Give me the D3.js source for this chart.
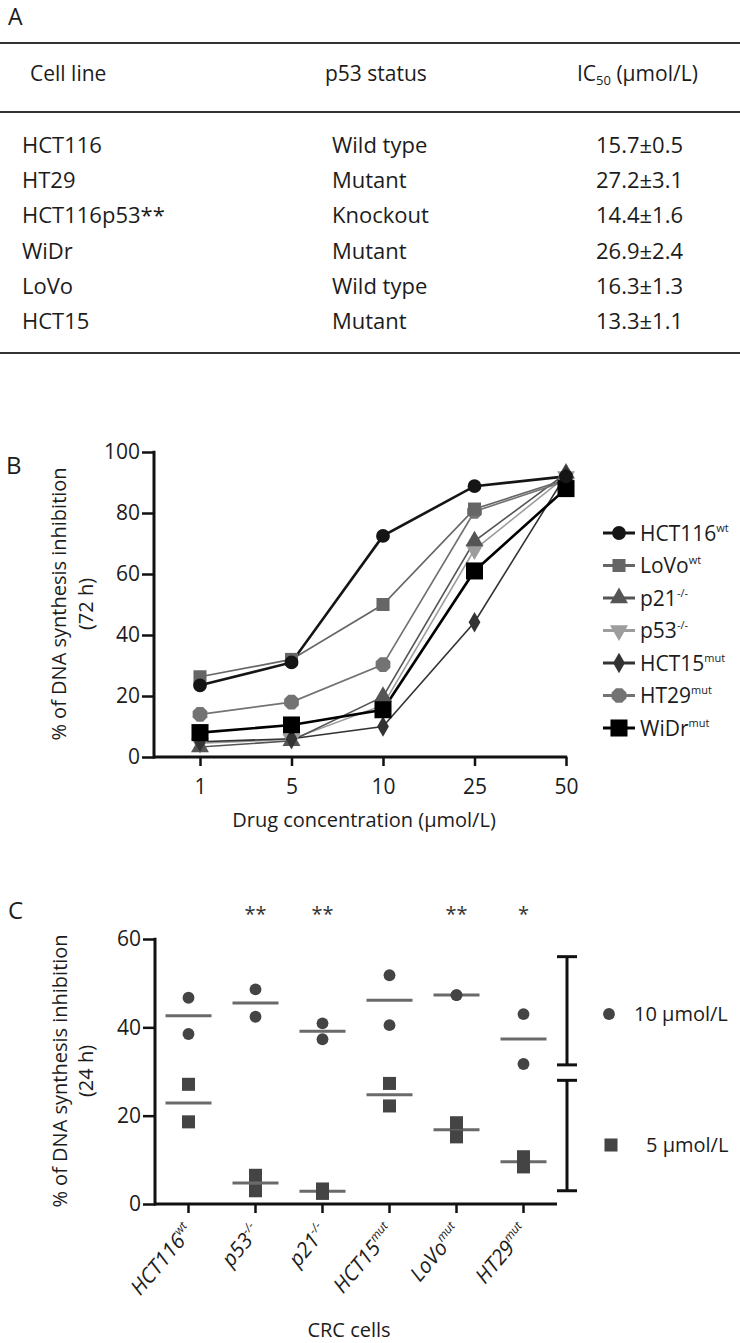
<!DOCTYPE html>
<html><head><meta charset="utf-8">
<script src="https://cdn.jsdelivr.net/npm/d3@7"></script>
<style>
html,body{margin:0;padding:0;background:#fff;}
svg{display:block;font-family:"Open Sans",sans-serif;}
</style></head>
<body>
<script>
// ---------- Panel A data ----------
const tableHeaders = ["Cell line", "p53 status", "IC50 (µmol/L)"];
const cellLines = ["HCT116", "HT29", "HCT116p53**", "WiDr", "LoVo", "HCT15"];
const p53Status = ["Wild type", "Mutant", "Knockout", "Mutant", "Wild type", "Mutant"];
const ic50 = ["15.7±0.5", "27.2±3.1", "14.4±1.6", "26.9±2.4", "16.3±1.3", "13.3±1.1"];

// ---------- Panel B data ----------
const concentrations = ["1", "5", "10", "25", "50"];
const seriesNames = ["HCT116", "LoVo", "p21", "p53", "HCT15", "HT29", "WiDr"];
const seriesSup = ["wt", "wt", "-/-", "-/-", "mut", "mut", "mut"];
const hct116Values = [23.5, 31, 72.5, 88.8, 92];
const lovoValues = [26.3, 32, 50, 81.3, 91];
const p21Values = [3.3, 5.3, 19.8, 70.8, 93];
const p53Values = [4.5, 5.8, 17, 68, 92];
const hct15Values = [5, 6, 10, 44.2, 92.5];
const ht29Values = [14, 18, 30.3, 80.5, 90.5];
const widrValues = [8, 10.5, 15.5, 61, 88];
const yTicksB = [0, 20, 40, 60, 80, 100];

// ---------- Panel C data ----------
const crcCells = ["HCT116", "p53", "p21", "HCT15", "LoVo", "HT29"];
const crcSup = ["wt", "-/-", "-/-", "mut", "mut", "mut"];
const signif = ["", "**", "**", "", "**", "*"];
const dose10 = [[46.7, 38.5], [48.6, 42.4], [40.9, 37.3], [51.8, 40.5], [47.3, 47.3], [43, 31.7]];
const dose5 = [[27.1, 18.6], [6.5, 3.0], [3.4, 2.4], [27.3, 22.2], [18.4, 15.2], [10.7, 8.4]];
const yTicksC = [0, 20, 40, 60];
const bracketRanges = [[31.5, 56], [3, 28]];
const doseLabels = ["10 µmol/L", "5 µmol/L"];

const W = 740, H = 1343;
const TXT = "#1c1c1c";
const svg = d3.select("body").append("svg").attr("width", W).attr("height", H);

// ================= Panel A =================
const gA = svg.append("g");
gA.append("text").attr("x", 8).attr("y", 25).attr("font-size", 23).attr("fill", TXT).text("A");
const ruleY = [43, 112, 353];
gA.selectAll("line.rule").data(ruleY).join("line")
  .attr("x1", 0).attr("x2", W).attr("y1", d => d).attr("y2", d => d)
  .attr("stroke", "#333").attr("stroke-width", 2.2);
const colX = [30, 325, 577];
const hdr = gA.append("g").attr("font-size", 21).attr("fill", TXT);
hdr.append("text").attr("x", colX[0]).attr("y", 81).text(tableHeaders[0]);
hdr.append("text").attr("x", colX[1]).attr("y", 81).text(tableHeaders[1]);
const ic = hdr.append("text").attr("x", colX[2]).attr("y", 81);
ic.append("tspan").text("IC");
ic.append("tspan").attr("font-size", 13).attr("dy", 4).text("50");
ic.append("tspan").attr("dy", -4).text(" (µmol/L)");

const rowY = d3.scalePoint().domain(d3.range(cellLines.length)).range([145, 321]);
const rows = gA.append("g").attr("font-size", 22).attr("fill", TXT);
rows.selectAll("text.c1").data(cellLines).join("text")
  .attr("x", 22).attr("y", (d, i) => rowY(i) + 8).text(d => d);
rows.selectAll("text.c2").data(p53Status).join("text").attr("class", "c2")
  .attr("x", 332).attr("y", (d, i) => rowY(i) + 8).text(d => d);
rows.selectAll("text.c3").data(ic50).join("text").attr("class", "c3")
  .attr("x", 596).attr("y", (d, i) => rowY(i) + 8).text(d => d);

// ================= Panel B =================
const gB = svg.append("g");
gB.append("text").attr("x", 6).attr("y", 474).attr("font-size", 24).attr("fill", TXT).text("B");

const xB = d3.scalePoint().domain(concentrations).range([200, 566]);
const yB = d3.scaleLinear().domain([0, 100]).range([757, 452]);

const yAxB = gB.append("g").attr("transform", "translate(154,0)")
  .call(d3.axisLeft(yB).tickValues(yTicksB).tickSize(12).tickPadding(2).tickSizeOuter(0));
const xAxB = gB.append("g").attr("transform", "translate(0,757)")
  .call(d3.axisBottom(xB).tickSize(9).tickPadding(8).tickSizeOuter(0));
[yAxB, xAxB].forEach(a => {
  a.select(".domain").remove();
  a.selectAll("line").attr("stroke", "#111").attr("stroke-width", 2.5);
  a.selectAll("text").attr("font-size", 21).attr("fill", TXT).attr("font-family", "Open Sans");
});
xAxB.selectAll("text").attr("dy", "0.95em");
gB.append("line").attr("x1", 154).attr("x2", 154).attr("y1", yB(100) - 1.2).attr("y2", yB(0) + 1.5)
  .attr("stroke", "#111").attr("stroke-width", 3);
gB.append("line").attr("x1", 153).attr("x2", xB("50") + 1.2).attr("y1", yB(0)).attr("y2", yB(0))
  .attr("stroke", "#111").attr("stroke-width", 3);

gB.append("text").attr("x", 364).attr("y", 827).attr("text-anchor", "middle")
  .attr("font-size", 20).attr("fill", TXT).text("Drug concentration (µmol/L)");
const ytB = gB.append("text").attr("transform", "translate(66,604) rotate(-90)")
  .attr("text-anchor", "middle").attr("font-size", 20).attr("fill", TXT);
ytB.append("tspan").attr("x", 0).attr("y", 0).text("% of DNA synthesis inhibition");
ytB.append("tspan").attr("x", 0).attr("y", 27).text("(72 h)");

const octagon = {
  draw(ctx, size) {
    const r = Math.sqrt(size / 2.83);
    for (let k = 0; k < 8; k++) {
      const a = Math.PI / 8 + k * Math.PI / 4;
      const px = r * Math.cos(a), py = r * Math.sin(a);
      if (k === 0) ctx.moveTo(px, py); else ctx.lineTo(px, py);
    }
    ctx.closePath();
  }
};
const seriesValues = [hct116Values, lovoValues, p21Values, p53Values, hct15Values, ht29Values, widrValues];
const seriesStyle = [
  {color: "#151515", lw: 2.6, sym: d3.symbolCircle, size: 150, rot: 0},
  {color: "#666", lw: 1.7, sym: d3.symbolSquare, size: 170, rot: 0},
  {color: "#555", lw: 1.6, sym: d3.symbolTriangle, size: 140, rot: 0},
  {color: "#9d9d9d", lw: 1.6, sym: d3.symbolTriangle, size: 140, rot: 180},
  {color: "#333", lw: 1.6, sym: d3.symbolDiamond, size: 120, rot: 0},
  {color: "#737373", lw: 1.7, sym: octagon, size: 180, rot: 0},
  {color: "#000", lw: 2.6, sym: d3.symbolSquare, size: 290, rot: 0}
];
const lineB = d3.line().x((d, i) => xB(concentrations[i])).y(d => yB(d));
const drawOrder = [3, 2, 5, 1, 4, 6, 0];
drawOrder.forEach(si => {
  const st = seriesStyle[si];
  gB.append("path").datum(seriesValues[si]).attr("d", lineB)
    .attr("fill", "none").attr("stroke", st.color).attr("stroke-width", st.lw);
});
drawOrder.forEach(si => {
  const st = seriesStyle[si];
  gB.append("g").selectAll("path").data(seriesValues[si]).join("path")
    .attr("d", d3.symbol().type(st.sym).size(st.size))
    .attr("transform", (d, i) => `translate(${xB(concentrations[i])},${yB(d)}) rotate(${st.rot})`)
    .attr("fill", st.color);
});

// legend B
const legY = d3.scalePoint().domain(d3.range(seriesNames.length)).range([533, 728]);
seriesNames.forEach((nm, si) => {
  const st = seriesStyle[si];
  const y = legY(si);
  gB.append("line").attr("x1", 603).attr("x2", 635).attr("y1", y).attr("y2", y)
    .attr("stroke", st.color).attr("stroke-width", 3);
  gB.append("path").attr("d", d3.symbol().type(st.sym).size(st.size)())
    .attr("transform", `translate(619,${y}) rotate(${st.rot})`).attr("fill", st.color);
  const t = gB.append("text").attr("x", 640).attr("y", y + 7.5).attr("font-size", 21).attr("fill", TXT);
  t.append("tspan").text(nm);
  t.append("tspan").attr("font-size", 11).attr("dy", -9).text(seriesSup[si]);
});

// ================= Panel C =================
const gC = svg.append("g");
gC.append("text").attr("x", 8).attr("y", 919).attr("font-size", 24).attr("fill", TXT).text("C");

const xC = d3.scaleBand().domain(crcCells).range([155, 557]).padding(0);
const yC = d3.scaleLinear().domain([0, 60]).range([1204, 939]);
const cx = d => xC(d) + xC.bandwidth() / 2;

const yAxC = gC.append("g").attr("transform", "translate(155,0)")
  .call(d3.axisLeft(yC).tickValues(yTicksC).tickSize(12).tickPadding(2).tickSizeOuter(0));
yAxC.select(".domain").remove();
yAxC.selectAll("line").attr("stroke", "#111").attr("stroke-width", 2.5);
yAxC.selectAll("text").attr("font-size", 21).attr("fill", TXT).attr("font-family", "Open Sans");
gC.append("line").attr("x1", 155).attr("x2", 155).attr("y1", yC(60) - 1.2).attr("y2", yC(0) + 1.5)
  .attr("stroke", "#111").attr("stroke-width", 3);
gC.append("line").attr("x1", 154).attr("x2", 557).attr("y1", yC(0)).attr("y2", yC(0))
  .attr("stroke", "#111").attr("stroke-width", 3);
gC.selectAll("line.xt").data(crcCells).join("line").attr("class", "xt")
  .attr("x1", d => cx(d)).attr("x2", d => cx(d)).attr("y1", yC(0)).attr("y2", yC(0) + 9)
  .attr("stroke", "#111").attr("stroke-width", 2.5);

// rotated x labels
crcCells.forEach((c, i) => {
  const t = gC.append("text")
    .attr("transform", `translate(${cx(c) + 6},${yC(0) + 28}) rotate(-50)`)
    .attr("text-anchor", "end").attr("font-size", 21).attr("font-style", "italic").attr("fill", TXT);
  t.append("tspan").text(c);
  t.append("tspan").attr("font-size", 12).attr("dy", -9).text(crcSup[i]);
});
gC.append("text").attr("x", 349).attr("y", 1337).attr("text-anchor", "middle")
  .attr("font-size", 20).attr("fill", TXT).text("CRC cells");
const ytC = gC.append("text").attr("transform", "translate(67,1071) rotate(-90)")
  .attr("text-anchor", "middle").attr("font-size", 20).attr("fill", TXT);
ytC.append("tspan").attr("x", 0).attr("y", 0).text("% of DNA synthesis inhibition");
ytC.append("tspan").attr("x", 0).attr("y", 26).text("(24 h)");

// significance stars
gC.selectAll("text.sig").data(signif).join("text").attr("class", "sig")
  .attr("x", (d, i) => cx(crcCells[i])).attr("y", 921).attr("text-anchor", "middle")
  .attr("font-size", 20).attr("fill", "#333").text(d => d);

// points and means
const ptColor = "#444", meanColor = "#6a6a6a";
crcCells.forEach((c, i) => {
  const x = cx(c);
  [dose10[i], dose5[i]].forEach((vals, k) => {
    gC.append("line").attr("x1", x - 23).attr("x2", x + 23)
      .attr("y1", yC(d3.mean(vals))).attr("y2", yC(d3.mean(vals)))
      .attr("stroke", meanColor).attr("stroke-width", 3);
    gC.append("g").selectAll("path").data(vals).join("path")
      .attr("d", d3.symbol().type(k === 0 ? d3.symbolCircle : d3.symbolSquare).size(k === 0 ? 110 : 170))
      .attr("transform", d => `translate(${x},${yC(d)})`).attr("fill", ptColor);
  });
});

// brackets
bracketRanges.forEach(([lo, hi]) => {
  const g = gC.append("g").attr("stroke", "#111").attr("stroke-width", 3);
  g.append("line").attr("x1", 567).attr("x2", 567).attr("y1", yC(hi)).attr("y2", yC(lo));
  g.append("line").attr("x1", 557).attr("x2", 577).attr("y1", yC(hi)).attr("y2", yC(hi));
  g.append("line").attr("x1", 557).attr("x2", 577).attr("y1", yC(lo)).attr("y2", yC(lo));
});

// legend C
gC.append("path").attr("d", d3.symbol().type(d3.symbolCircle).size(110)())
  .attr("transform", "translate(609,1014)").attr("fill", ptColor);
gC.append("text").attr("x", 634).attr("y", 1021).attr("font-size", 20).attr("fill", TXT).text(doseLabels[0]);
gC.append("path").attr("d", d3.symbol().type(d3.symbolSquare).size(170)())
  .attr("transform", "translate(611,1145)").attr("fill", ptColor);
gC.append("text").attr("x", 646).attr("y", 1152).attr("font-size", 20).attr("fill", TXT).text(doseLabels[1]);
</script>
</body></html>
